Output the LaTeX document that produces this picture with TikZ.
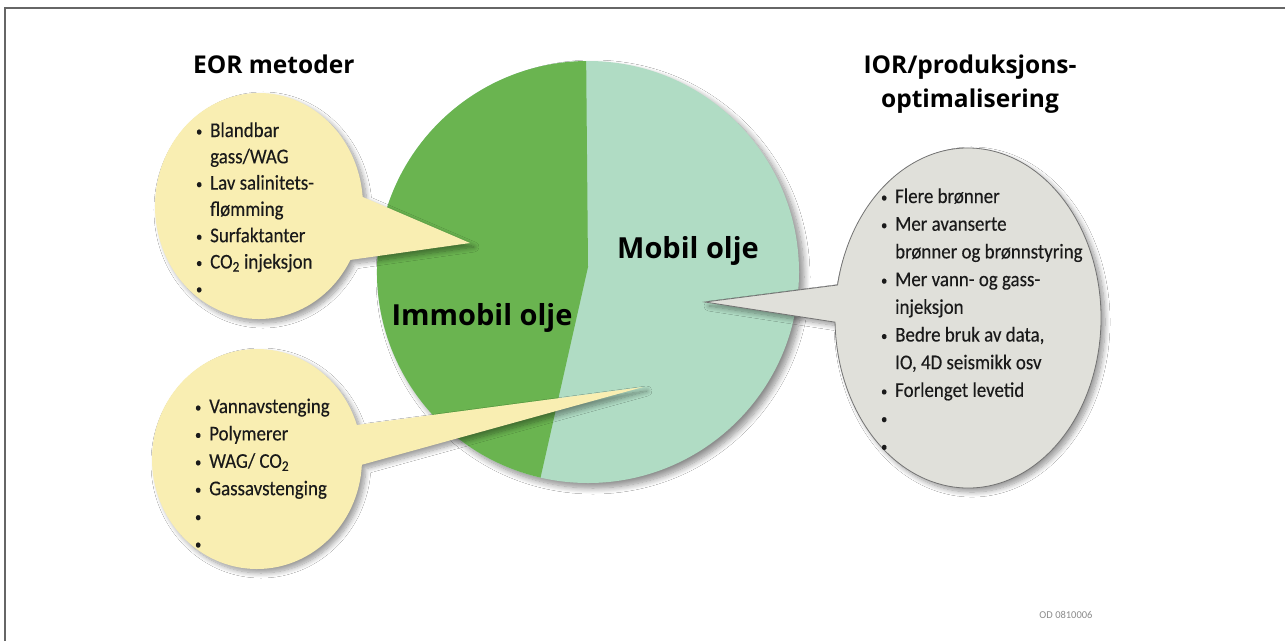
\documentclass[tikz,border=0pt]{standalone}
\usepackage{fontspec}
\setmainfont{Carlito}
\newfontfamily\bodyfont[FakeStretch=0.9,FakeBold=0.3]{Carlito}
\newfontfamily\titlefont{Open Sans}
\usetikzlibrary{shadows.blur,calc}
\definecolor{dkgreen}{HTML}{6AB450}
\definecolor{ltgreen}{HTML}{B0DCC4}
\definecolor{yel}{HTML}{F9EEB2}
\definecolor{grayb}{HTML}{E0E0DA}
\definecolor{txt}{HTML}{1A1A1A}
\newcommand{\itm}{\makebox[11pt][l]{\makebox[0pt]{\raisebox{1pt}{\fontsize{14}{14}\selectfont\textbullet}}}}
\newcommand{\nitm}{\makebox[11pt][l]{}}
\begin{document}
\begin{tikzpicture}[x=1pt,y=-1pt,
  bshadow/.style={blur shadow={shadow xshift=4pt, shadow yshift=-4pt, shadow blur radius=5pt, shadow opacity=40, shadow blur steps=10}},
  title/.style={inner sep=0pt, text=black, font=\titlefont\bfseries\fontsize{24.5}{34}\selectfont},
  pielabel/.style={inner sep=0pt, anchor=base, text=black, font=\titlefont\bfseries\fontsize{29}{34}\selectfont},
  listtext/.style={inner sep=0pt, anchor=base west, text=txt},
  framestyle/.style={draw=black!60, line width=2pt}]
\useasboundingbox (0,0) rectangle (1285,641);
\fill[white] (0,0) rectangle (1285,641);
\draw[framestyle] (5,641) -- (5,8) -- (1285,8);

% pie
\coordinate (pc) at (588,272);
\fill[ltgreen, blur shadow={shadow xshift=5pt, shadow yshift=-5pt, shadow blur radius=6pt, shadow opacity=45, shadow blur steps=10}] (pc) circle[radius=211];
\coordinate (pdiv) at (588,267);
\fill[dkgreen] (pdiv) -- ($(pc)+(103:211)$) arc[start angle=103, end angle=269.5, radius=211] -- cycle;

% top-left yellow bubble
\coordinate (b1) at (259,206);
\coordinate (t1) at (470,243);
\path[fill=yel, bshadow] ($(b1)+(28.5:104 and 113)$) arc[start angle=28.5, end angle=355.4, x radius=104, y radius=113] -- (t1) -- cycle;

% bottom-left yellow bubble
\coordinate (b2) at (257,459);
\coordinate (t2) at (643,387);
\path[fill=yel, bshadow] ($(b2)+(3:105 and 110)$) arc[start angle=3, end angle=342, x radius=105, y radius=110] -- (t2) -- cycle;

% right gray bubble
\coordinate (b3) at (968,318);
\coordinate (t3) at (705,302);
\path[fill=grayb, draw=black!55, line width=0.8pt, bshadow] ($(b3)+(191.2:133 and 170)$) arc[start angle=191.2, end angle=538.6, x radius=133, y radius=170] -- (t3) -- cycle;

% labels
\node[pielabel] (immobil) at (482,325) {Immobil olje};
\node[pielabel] (mobil) at (688,258) {Mobil olje};

\node[title, anchor=base west] (eor) at (193,73) {EOR metoder};
\node[title, anchor=base] (ior) at (970,73) {\begin{tabular}[t]{@{}c@{}}IOR/produksjons-\\optimalisering\end{tabular}};

\node[listtext, font=\bodyfont\fontsize{21}{26.3}\selectfont] (list1) at (199,137) {\begin{tabular}[t]{@{}l@{}}
\itm Blandbar\\
\nitm gass/WAG\\
\itm Lav salinitets-\\
\nitm flømming\\
\itm Surfaktanter\\
\itm CO\textsubscript{2} injeksjon\\
\itm
\end{tabular}};

\node[listtext, font=\bodyfont\fontsize{21}{27.4}\selectfont] (list2) at (198,413) {\begin{tabular}[t]{@{}l@{}}
\itm Vannavstenging\\
\itm Polymerer\\
\itm WAG/ CO\textsubscript{2}\\
\itm Gassavstenging\\
\itm\\
\itm
\end{tabular}};

\node[listtext, font=\bodyfont\fontsize{21}{27.7}\selectfont] (list3) at (884,203) {\begin{tabular}[t]{@{}l@{}}
\itm Flere brønner\\
\itm Mer avanserte\\
\nitm brønner og brønnstyring\\
\itm Mer vann- og gass-\\
\nitm injeksjon\\
\itm Bedre bruk av data,\\
\nitm IO, 4D seismikk osv\\
\itm Forlenget levetid\\
\itm\\
\itm
\end{tabular}};

\node[inner sep=0pt, anchor=base, text=black!45, font=\fontsize{10.5}{11}\selectfont] (odid) at (1066,618) {OD 0810006};
\end{tikzpicture}
\end{document}
